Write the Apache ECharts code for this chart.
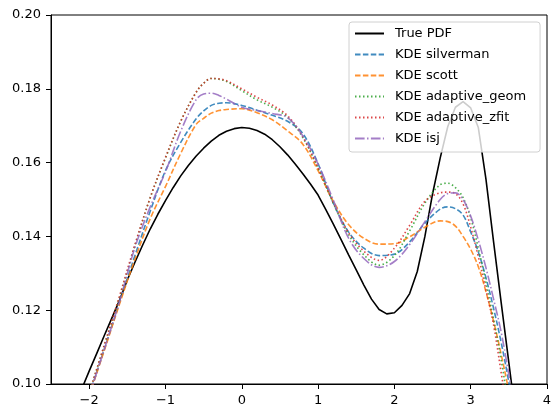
<!DOCTYPE html>
<html>
<head>
<meta charset="utf-8">
<script src="https://cdn.jsdelivr.net/npm/echarts@6/dist/echarts.min.js"></script>
<style>
html,body{margin:0;padding:0;background:#fff;}
#chart{width:560px;height:418px;}
</style>
</head>
<body>
<div id="chart"></div>
<script>
// ---- data ----
var xTicks = [-2, -1, 0, 1, 2, 3, 4];

var trueX = [-2.2,-2.1,-2.0,-1.9,-1.8,-1.7,-1.6,-1.5,-1.4,-1.3,-1.2,-1.1,-1.0,-0.9,-0.8,-0.7,-0.6,-0.5,-0.4,-0.3,-0.2,-0.1,
             0.0,0.1,0.2,0.3,0.4,0.5,0.6,0.7,0.8,0.9,1.0,1.1,1.2,1.3,1.4,1.5,1.6,1.7,1.8,1.9,2.0,2.1,2.2,2.3,2.4,2.5,2.6,2.7,2.8,2.9,
             3.0,3.1,3.2,3.3,3.4,3.5,3.6];
var trueY = [0.0935,0.0985,0.1035,0.1083,0.1132,0.1180,0.1228,0.1282,0.1330,0.1376,0.1420,0.1460,0.1497,0.1532,0.1564,0.1592,0.1617,0.1639,0.1658,0.1674,0.1685,0.1692,
             0.1695,0.1693,0.1687,0.1677,0.1662,0.1643,0.1621,0.1596,0.1570,0.1542,0.1512,0.1473,0.1433,0.1392,0.1350,0.1309,0.1268,0.1230,0.1202,0.1190,0.1193,0.1213,0.1245,0.1305,0.1400,0.1515,0.1612,0.1698,0.1750,0.1765,
             0.1748,0.1695,0.1555,0.1385,0.1220,0.1058,0.0895];

var kdeX = [-2.0,-1.8,-1.6,-1.4,-1.2,-1.0,-0.8,-0.6,-0.5,-0.4,-0.3,-0.2,0.0,0.2,0.4,0.6,0.8,1.0,1.2,1.4,1.6,1.8,2.0,2.2,2.4,2.6,2.7,2.8,2.9,3.0,3.1,3.2,3.3,3.4,3.5,3.6];
var silvermanY = [0.0970,0.1095,0.1222,0.1348,0.1468,0.1578,0.1655,0.1718,0.1740,0.1755,0.1761,0.1762,0.1755,0.1742,0.1728,0.1712,0.1679,0.1597,0.1490,0.1412,0.1368,0.1348,0.1352,0.1385,0.1436,0.1474,0.1480,0.1475,0.1458,0.1412,0.1358,0.1288,0.1205,0.1112,0.1005,0.0890];
var scottY     = [0.0968,0.1092,0.1218,0.1338,0.1448,0.1535,0.1625,0.1703,0.1720,0.1734,0.1741,0.1744,0.1746,0.1735,0.1716,0.1686,0.1650,0.1578,0.1495,0.1432,0.1395,0.1379,0.1380,0.1399,0.1425,0.1442,0.1440,0.1428,0.1400,0.1365,0.1318,0.1250,0.1170,0.1080,0.0980,0.0870];
var geomY      = [0.0975,0.1105,0.1235,0.1375,0.1505,0.1612,0.1712,0.1790,0.1815,0.1828,0.1826,0.1820,0.1795,0.1770,0.1750,0.1723,0.1668,0.1585,0.1490,0.1405,0.1350,0.1322,0.1348,0.1415,0.1490,0.1540,0.1544,0.1532,0.1505,0.1450,0.1368,0.1275,0.1175,0.1065,0.0935,0.0800];
var zfitY      = [0.0975,0.1107,0.1240,0.1378,0.1505,0.1614,0.1712,0.1790,0.1815,0.1828,0.1827,0.1822,0.1800,0.1777,0.1756,0.1727,0.1670,0.1585,0.1492,0.1410,0.1360,0.1335,0.1368,0.1430,0.1495,0.1518,0.1520,0.1516,0.1488,0.1425,0.1345,0.1255,0.1160,0.1030,0.0900,0.0770];
var isjY       = [0.0968,0.1095,0.1225,0.1370,0.1480,0.1575,0.1685,0.1770,0.1786,0.1788,0.1782,0.1772,0.1750,0.1741,0.1733,0.1722,0.1672,0.1596,0.1498,0.1395,0.1340,0.1316,0.1332,0.1378,0.1440,0.1500,0.1516,0.1518,0.1500,0.1455,0.1390,0.1315,0.1230,0.1140,0.1025,0.0900];

var seriesNames = ['True PDF','KDE silverman','KDE scott','KDE adaptive_geom','KDE adaptive_zfit','KDE isj'];

function pairs(xs, ys){ return xs.map(function(x,i){ return [x, ys[i]]; }); }

var FONT = 'DejaVu Sans';
var FS = 13;
var chart = echarts.init(document.getElementById('chart'), null, {renderer:'canvas'});

function kdeSeries(name, ys, color, dash){
  return {
    name: name, type: 'line', data: pairs(kdeX, ys), symbol: 'none', smooth: 0.35,
    clip: true,
    lineStyle: {color: color, width: 1.6, type: dash, opacity: 0.85, cap: 'butt'},
    itemStyle: {color: color, opacity: 0.85}
  };
}

chart.setOption({
  animation: false,
  backgroundColor: '#fff',
  grid: {left: 51, right: 13, top: 15, bottom: 34, show: true, borderColor: '#000', borderWidth: 1, backgroundColor: 'transparent'},
  xAxis: {
    type: 'value', min: -2.5, max: 4,
    axisLine: {show: true, onZero: false, lineStyle: {color: '#000', width: 1}},
    axisTick: {show: true, inside: false, length: 5, customValues: xTicks, lineStyle: {color: '#000'}},
    axisLabel: {customValues: xTicks, color: '#000', fontFamily: FONT, fontSize: FS, margin: 10,
      formatter: function(v){ return String(v).replace('-', '\u2212'); }},
    splitLine: {show: false}
  },
  yAxis: {
    type: 'value', min: 0.10, max: 0.20, interval: 0.02,
    axisLine: {show: true, onZero: false, lineStyle: {color: '#000', width: 1}},
    axisTick: {show: true, inside: false, length: 5, lineStyle: {color: '#000'}},
    axisLabel: {color: '#000', fontFamily: FONT, fontSize: FS, margin: 10,
      formatter: function(v){ return v.toFixed(2); }},
    splitLine: {show: false}
  },
  legend: {
    orient: 'vertical', left: 349, top: 22,
    itemWidth: 29, itemHeight: 12, itemGap: 8,
    padding: [5, 14, 7, 5],
    backgroundColor: 'rgba(255,255,255,0.8)', borderColor: '#d0d0d0', borderWidth: 1, borderRadius: 3,
    itemStyle: {color: 'rgba(0,0,0,0)', opacity: 0, borderWidth: 0},
    textStyle: {fontFamily: FONT, fontSize: FS, color: '#000', padding: [0, 0, 0, 6]},
    data: seriesNames
  },
  series: [
    {name: seriesNames[0], type: 'line', data: pairs(trueX, trueY), symbol: 'none', clip: true,
     lineStyle: {color: '#000', width: 1.6}, itemStyle: {color: '#000'}},
    kdeSeries(seriesNames[1], silvermanY, '#1f77b4', [5.5, 2.4]),
    kdeSeries(seriesNames[2], scottY, '#ff7f0e', [5.5, 2.4]),
    kdeSeries(seriesNames[3], geomY, '#2ca02c', [1.5, 2.5]),
    kdeSeries(seriesNames[4], zfitY, '#d62728', [1.5, 2.5]),
    kdeSeries(seriesNames[5], isjY, '#9467bd', [9.6, 2.4, 1.5, 2.4])
  ]
});
</script>
</body>
</html>
